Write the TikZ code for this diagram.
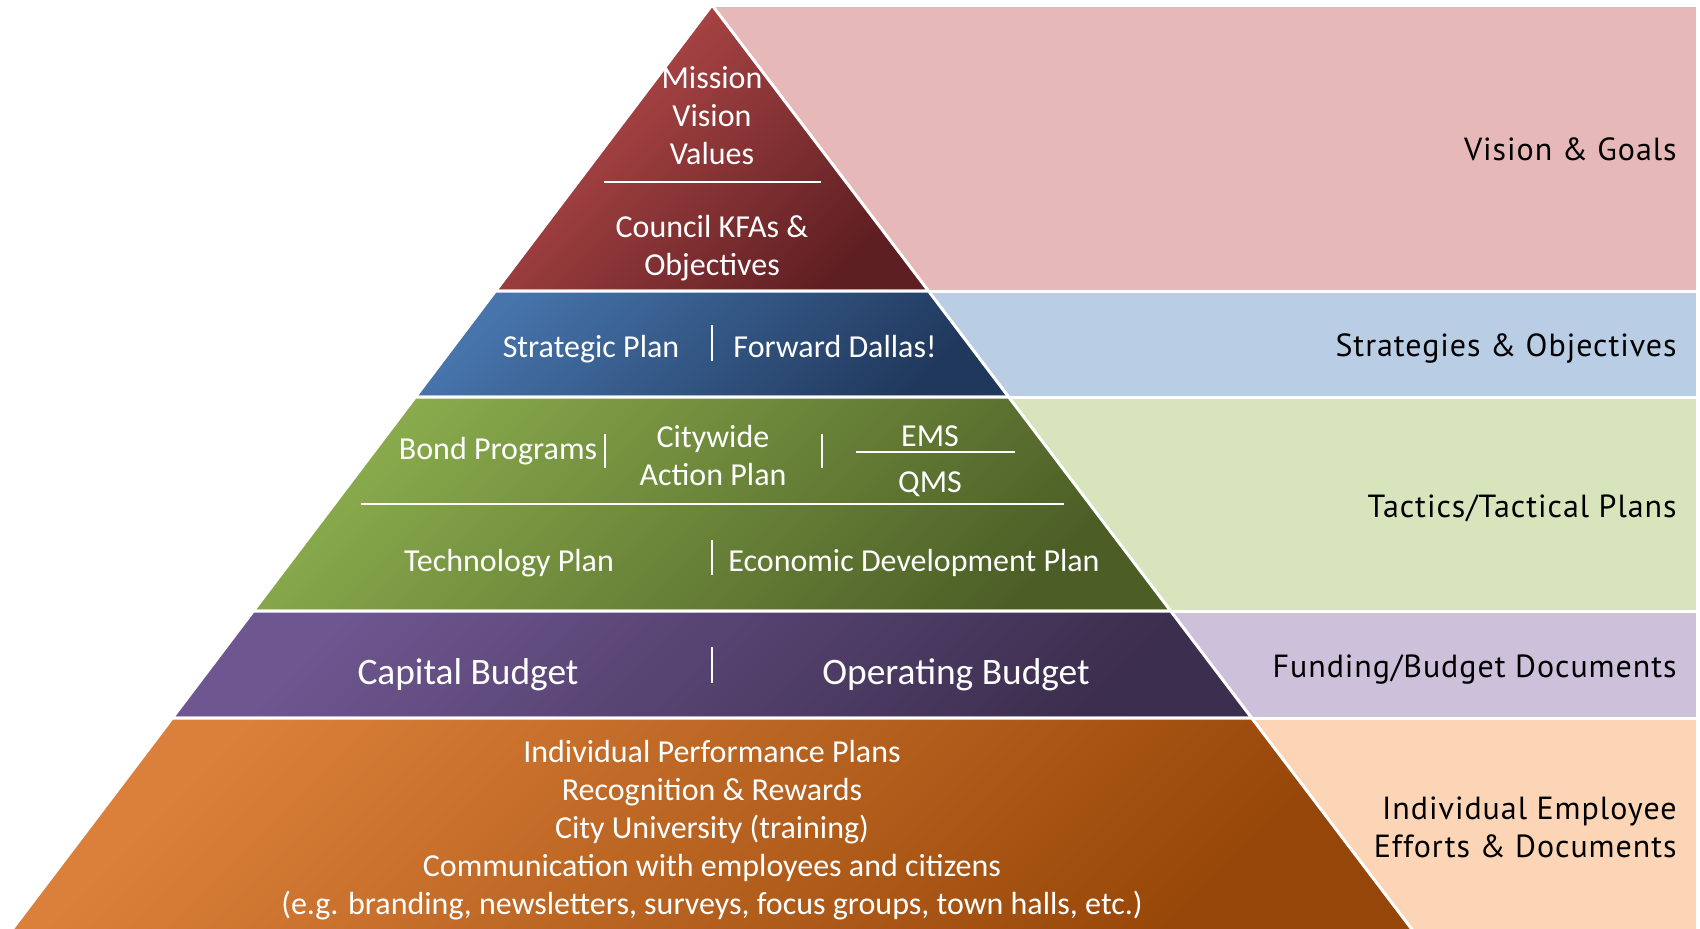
\documentclass[tikz,border=0pt]{standalone}
\usepackage{fontspec}
\setmainfont{Carlito}
\newfontfamily\sidefont[LetterSpace=3]{PT Sans}
\usetikzlibrary{positioning, calc}
\definecolor{redtop}{RGB}{186, 76, 76}
\definecolor{redbot}{RGB}{94, 31, 34}
\definecolor{bluetop}{RGB}{70, 116, 171}
\definecolor{bluebot}{RGB}{32, 56, 92}
\definecolor{greentop}{RGB}{137, 171, 76}
\definecolor{greenbot}{RGB}{76, 94, 38}
\definecolor{purpletop}{RGB}{110, 86, 144}
\definecolor{purplebot}{RGB}{60, 46, 78}
\definecolor{orangetop}{RGB}{219, 128, 58}
\definecolor{orangebot}{RGB}{150, 70, 8}
\definecolor{redpanel}{RGB}{230, 184, 183}
\definecolor{bluepanel}{RGB}{185, 205, 229}
\definecolor{greenpanel}{RGB}{216, 228, 188}
\definecolor{purplepanel}{RGB}{204, 192, 218}
\definecolor{orangepanel}{RGB}{251, 213, 181}

\begin{document}
\begin{tikzpicture}[x=0.5pt, y=-0.5pt,
  band/.style 2 args={draw=white, line width=1.5pt, line join=round, top color=#1, bottom color=#2, shading angle=45},
  panel/.style={draw=white, line width=1.5pt, fill=#1},
  bandtext/.style={text=white, font=\fontsize{16}{19}\selectfont, align=center, inner sep=0pt},
  bigtext/.style={bandtext, font=\fontsize{18.7}{21}\selectfont},
  sidetext/.style={text=black, font=\sidefont\fontsize{16}{19}\selectfont, align=right, anchor=east, inner sep=0pt},
  divider/.style={white, line width=1pt}]
  \useasboundingbox (0,0) rectangle (1700,928);
  \clip (0,0) rectangle (1700,928);

  % Side panels
  \draw[panel=redpanel] (712,5) rectangle (1697,291);
  \draw[panel=bluepanel] (900,291) rectangle (1697,397);
  \draw[panel=greenpanel] (900,397) rectangle (1697,611);
  \draw[panel=purplepanel] (900,611) rectangle (1697,718);
  \draw[panel=orangepanel] (900,718) rectangle (1697,940);

  % Pyramid bands
  \draw[band={redtop}{redbot}] (712,5) -- (495.5,291) -- (928.5,291) -- cycle;
  \draw[band={bluetop}{bluebot}] (495.5,291) -- (415.3,397) -- (1008.7,397) -- (928.5,291) -- cycle;
  \draw[band={greentop}{greenbot}] (415.3,397) -- (253.3,611) -- (1170.7,611) -- (1008.7,397) -- cycle;
  \draw[band={purpletop}{purplebot}] (253.3,611) -- (172.3,718) -- (1251.7,718) -- (1170.7,611) -- cycle;
  \draw[band={orangetop}{orangebot}] (172.3,718) -- (4,940) -- (1420,940) -- (1251.7,718) -- cycle;

  % Vision & goals
  \node[bandtext] (mission) at (712,116) {Mission\\Vision\\Values};
  \draw[divider] (604,182) -- (821,182);
  \node[bandtext] (council) at (712,248) {Council KFAs \&\\Objectives};

  % Strategies
  \node[bandtext] (strategic) at (591,349) {Strategic Plan};
  \draw[divider] (712,325) -- (712,361);
  \node[bandtext] (forward) at (835,346) {Forward Dallas!};

  % Tactics
  \node[bandtext] (bond) at (498,451) {Bond Programs};
  \draw[divider] (605,434) -- (605,468);
  \node[bandtext] (citywide) at (713,455) {Citywide\\Action Plan};
  \draw[divider] (822,434) -- (822,468);
  \node[bandtext] (ems) at (930,436) {EMS};
  \draw[divider] (856,452) -- (1015,452);
  \node[bandtext] (qms) at (930,484) {QMS};
  \draw[divider] (361,504) -- (1064,504);
  \node[bandtext] (technology) at (509,563) {Technology Plan};
  \draw[divider] (712,540) -- (712,575);
  \node[bandtext] (economic) at (914,563) {Economic Development Plan};

  % Budgets
  \node[bigtext] (capital) at (468,675) {Capital Budget};
  \draw[divider] (712,647) -- (712,683);
  \node[bigtext] (operating) at (956,675) {Operating Budget};

  % Employees
  \node[bandtext] (individual) at (712,830) {Individual Performance Plans\\
    Recognition \& Rewards\\
    City University (training)\\
    Communication with employees and citizens\\
    (e.g. branding, newsletters, surveys, focus groups, town halls, etc.)};

  % Side labels
  \node[sidetext] (goals) at (1677,149) {Vision \& Goals};
  \node[sidetext] (objectives) at (1677,348) {Strategies \& Objectives};
  \node[sidetext] (tactics) at (1677,508) {Tactics/Tactical Plans};
  \node[sidetext] (funding) at (1677,669) {Funding/Budget Documents};
  \node[sidetext] (efforts) at (1677,827) {Individual Employee\\Efforts \& Documents};
\end{tikzpicture}
\end{document}
